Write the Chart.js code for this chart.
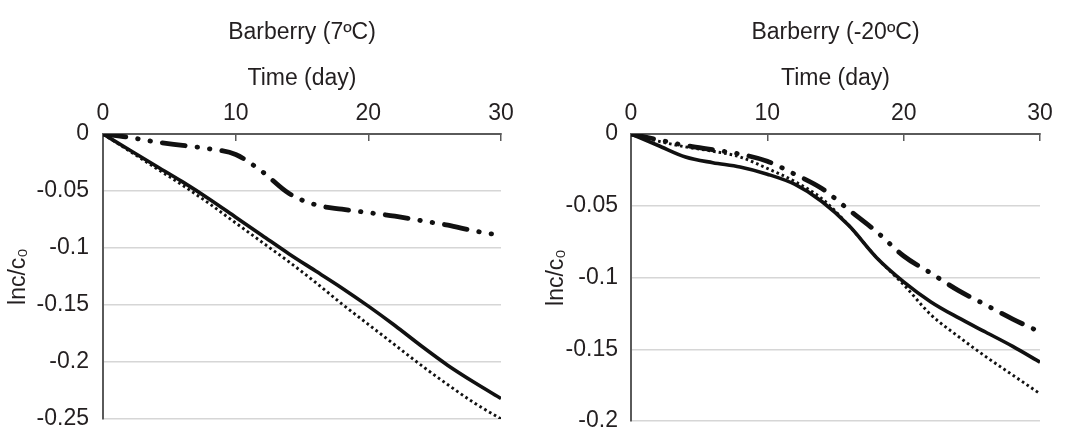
<!DOCTYPE html>
<html>
<head>
<meta charset="utf-8">
<script src="https://cdn.jsdelivr.net/npm/chart.js@4"></script>
<style>
  html, body { margin: 0; padding: 0; background: #fff; }
  #wrap { position: relative; width: 1065px; height: 435px; }
  .panel { position: absolute; top: 0; height: 435px; }
</style>
</head>
<body>
<div id="wrap">
  <div class="panel" style="left:0;width:530px"><canvas id="left" width="530" height="435"></canvas></div>
  <div class="panel" style="left:530px;width:535px"><canvas id="right" width="535" height="435"></canvas></div>
</div>
<script>
const days = [0, 2, 4, 6, 8, 10, 12, 14, 16, 18, 20, 22, 24, 26, 28, 30];
const xTicks = [0, 10, 20, 30];

// Barberry 7ºC
const warmSolid = [0, -0.014, -0.028, -0.042, -0.057, -0.073, -0.089, -0.105, -0.120, -0.135, -0.151, -0.168, -0.186, -0.203, -0.218, -0.232];
const warmDotted = [0, -0.015, -0.030, -0.045, -0.061, -0.078, -0.095, -0.112, -0.130, -0.149, -0.167, -0.185, -0.203, -0.220, -0.236, -0.250];
const warmDashDot = [0, -0.003, -0.007, -0.010, -0.013, -0.018, -0.033, -0.052, -0.062, -0.066, -0.069, -0.072, -0.076, -0.080, -0.085, -0.089];

// Barberry -20ºC
const coldSolid = [0, -0.008, -0.016, -0.020, -0.023, -0.028, -0.035, -0.047, -0.064, -0.086, -0.103, -0.117, -0.128, -0.138, -0.148, -0.159];
const coldDotted = [0, -0.005, -0.009, -0.012, -0.016, -0.024, -0.033, -0.045, -0.064, -0.086, -0.105, -0.126, -0.141, -0.155, -0.168, -0.181];
const coldDashDot = [0, -0.004, -0.008, -0.011, -0.014, -0.019, -0.028, -0.038, -0.053, -0.068, -0.085, -0.097, -0.109, -0.119, -0.129, -0.138];

const FONT = "'Liberation Sans', Arial, sans-serif";
const SIZE = 23;
const TEXT = "#231f20";
const AXIS = "#5a5a5a";

function pts(vals) {
  return vals.map((v, i) => ({ x: days[i], y: v }));
}

function line(vals, style) {
  const base = {
    data: pts(vals),
    borderColor: "#111",
    pointRadius: 0,
    fill: false,
    cubicInterpolationMode: "monotone"
  };
  if (style === "solid") return { ...base, borderWidth: 3.6 };
  if (style === "dotted") return { ...base, borderWidth: 2.9, borderDash: [2.6, 3] };
  return { ...base, borderWidth: 4.8, borderCapStyle: "round", borderDash: [23, 12, 0.5, 12, 0.5, 12] };
}

function drawPanel(id, opts) {
  new Chart(document.getElementById(id), {
    type: "line",
    data: {
      datasets: [
        line(opts.solid, "solid"),
        line(opts.dotted, "dotted"),
        line(opts.dashDot, "dashdot")
      ]
    },
    options: {
      responsive: false,
      animation: false,
      layout: { padding: opts.pad },
      plugins: {
        legend: { display: false },
        tooltip: { enabled: false },
        title: {
          display: true,
          text: opts.title,
          fullSize: false,
          color: TEXT,
          font: { family: FONT, size: SIZE, weight: "normal" },
          padding: { top: 19, bottom: 5 }
        }
      },
      scales: {
        x: {
          type: "linear",
          position: "top",
          min: 0,
          max: 30,
          afterBuildTicks: s => { s.ticks = xTicks.map(v => ({ value: v })); },
          afterFit: s => { s.height = 82.4; },
          // tall line box puts the labels' centre ~27px above the tick base
          ticks: { color: TEXT, font: { family: FONT, size: SIZE, lineHeight: 2.36 }, padding: 0, maxRotation: 0 },
          grid: { drawOnChartArea: false, tickLength: -7, color: AXIS, lineWidth: 1.5 },
          border: { color: AXIS, width: 2 },
          title: {
            display: true,
            text: "Time (day)",
            color: TEXT,
            font: { family: FONT, size: SIZE },
            padding: { top: 13.4, bottom: 0 }
          }
        },
        y: {
          min: opts.yMin,
          max: 0,
          afterFit: s => { s.width = opts.yWidth; },
          ticks: {
            stepSize: 0.05,
            color: TEXT,
            font: { family: FONT, size: SIZE, lineHeight: 0.02 },
            padding: opts.yPad,
            callback: v => String(+v.toFixed(2))
          },
          grid: { color: "#d6d6d6", lineWidth: 1.5, drawTicks: false },
          border: { color: AXIS, width: 2 },
          title: {
            display: true,
            text: "lnc/c₀",
            color: TEXT,
            font: { family: FONT, size: SIZE },
            padding: { top: 0, bottom: 0 }
          }
        }
      }
    }
  });
}

drawPanel("left", {
  title: "Barberry (7ºC)",
  solid: warmSolid, dotted: warmDotted, dashDot: warmDashDot,
  yMin: -0.25, yWidth: 98, yPad: 14,
  pad: { left: 5, right: 29, top: 0, bottom: 16 }
});

drawPanel("right", {
  title: "Barberry (-20ºC)",
  solid: coldSolid, dotted: coldDotted, dashDot: coldDashDot,
  yMin: -0.2, yWidth: 88, yPad: 13,
  pad: { left: 13, right: 25, top: 0, bottom: 14 }
});
</script>
</body>
</html>
